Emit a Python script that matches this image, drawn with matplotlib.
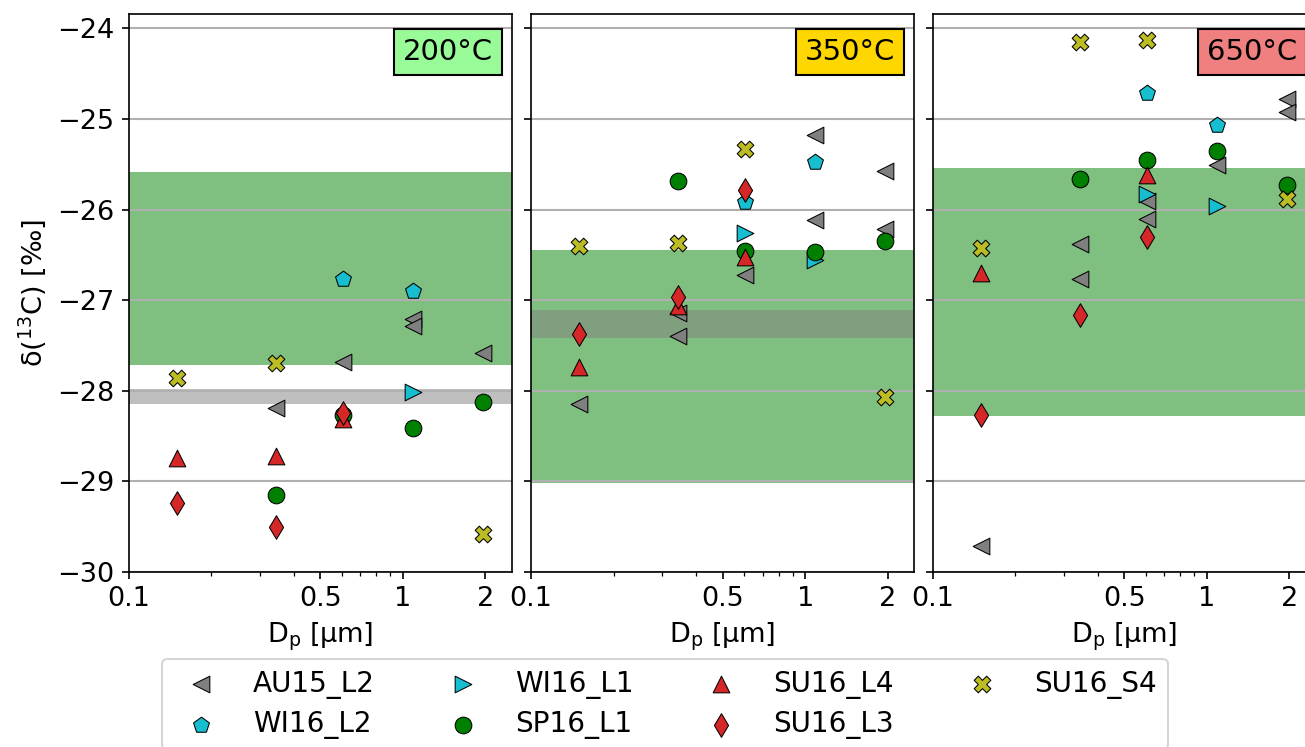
import matplotlib
matplotlib.use("Agg")
import matplotlib.pyplot as plt
import numpy as np

plt.rcParams['font.family'] = ['DejaVu Sans']
plt.rcParams['font.size'] = 13

# ---------------- data ----------------
temps = ["200°C", "350°C", "650°C"]
temp_colors = ["palegreen", "gold", "lightcoral"]

series_names = ["AU15_L2", "WI16_L2", "WI16_L1", "SP16_L1", "SU16_L4", "SU16_L3", "SU16_S4"]
series_markers = ["<", "p", ">", "o", "^", "d", "X"]
series_colors = ["tab:gray", "tab:cyan", "tab:cyan", "green", "tab:red", "tab:red", "tab:olive"]

# 200 °C
au15_200_x = [0.345, 0.605, 1.09, 1.09, 1.96]
au15_200_y = [-28.19, -27.68, -27.21, -27.29, -27.58]
wi16l2_200_x = [0.605, 1.09]
wi16l2_200_y = [-26.77, -26.90]
wi16l1_200_x = [1.09]
wi16l1_200_y = [-28.02]
sp16l1_200_x = [0.345, 0.605, 1.09, 1.96]
sp16l1_200_y = [-29.15, -28.27, -28.41, -28.13]
su16l4_200_x = [0.15, 0.345, 0.605]
su16l4_200_y = [-28.74, -28.72, -28.31]
su16l3_200_x = [0.15, 0.345, 0.605]
su16l3_200_y = [-29.24, -29.51, -28.25]
su16s4_200_x = [0.15, 0.345, 1.96]
su16s4_200_y = [-27.86, -27.69, -29.58]

# 350 °C
au15_350_x = [0.15, 0.345, 0.345, 0.605, 1.09, 1.09, 1.96, 1.96]
au15_350_y = [-28.15, -27.14, -27.40, -26.72, -25.18, -26.11, -25.57, -26.21]
wi16l2_350_x = [0.605, 1.09]
wi16l2_350_y = [-25.92, -25.47]
wi16l1_350_x = [0.605, 1.09]
wi16l1_350_y = [-26.26, -26.56]
sp16l1_350_x = [0.345, 0.605, 1.09, 1.96]
sp16l1_350_y = [-25.68, -26.46, -26.47, -26.35]
su16l4_350_x = [0.15, 0.345, 0.605]
su16l4_350_y = [-27.74, -27.07, -26.52]
su16l3_350_x = [0.15, 0.345, 0.605]
su16l3_350_y = [-27.38, -26.97, -25.78]
su16s4_350_x = [0.15, 0.345, 0.605, 1.96]
su16s4_350_y = [-26.40, -26.37, -25.33, -28.07]

# 650 °C
au15_650_x = [0.15, 0.345, 0.345, 0.605, 0.605, 1.09, 1.96, 1.96]
au15_650_y = [-29.72, -26.38, -26.77, -25.90, -26.10, -25.51, -24.78, -24.92]
wi16l2_650_x = [0.605, 1.09]
wi16l2_650_y = [-24.71, -25.07]
wi16l1_650_x = [0.605, 1.09]
wi16l1_650_y = [-25.83, -25.96]
sp16l1_650_x = [0.345, 0.605, 1.09, 1.96]
sp16l1_650_y = [-25.66, -25.45, -25.35, -25.73]
su16l4_650_x = [0.15, 0.605]
su16l4_650_y = [-26.70, -25.62]
su16l3_650_x = [0.15, 0.345, 0.605]
su16l3_650_y = [-28.27, -27.16, -26.30]
su16s4_650_x = [0.15, 0.345, 0.605, 1.96]
su16s4_650_y = [-26.42, -24.15, -24.13, -25.88]

# bands (green range, gray range)
green_band_lo = [-27.72, -29.02, -28.28]
green_band_hi = [-25.58, -26.45, -25.54]
gray_band_lo = [-28.15, -27.42, None]
gray_band_hi = [-27.98, -27.11, None]

xticks = [0.1, 0.5, 1, 2]
xticklabels = ["0.1", "0.5", "1", "2"]
yticks = [-30, -29, -28, -27, -26, -25, -24]

panel_data = [
    [(au15_200_x, au15_200_y), (wi16l2_200_x, wi16l2_200_y), (wi16l1_200_x, wi16l1_200_y),
     (sp16l1_200_x, sp16l1_200_y), (su16l4_200_x, su16l4_200_y), (su16l3_200_x, su16l3_200_y),
     (su16s4_200_x, su16s4_200_y)],
    [(au15_350_x, au15_350_y), (wi16l2_350_x, wi16l2_350_y), (wi16l1_350_x, wi16l1_350_y),
     (sp16l1_350_x, sp16l1_350_y), (su16l4_350_x, su16l4_350_y), (su16l3_350_x, su16l3_350_y),
     (su16s4_350_x, su16s4_350_y)],
    [(au15_650_x, au15_650_y), (wi16l2_650_x, wi16l2_650_y), (wi16l1_650_x, wi16l1_650_y),
     (sp16l1_650_x, sp16l1_650_y), (su16l4_650_x, su16l4_650_y), (su16l3_650_x, su16l3_650_y),
     (su16s4_650_x, su16s4_650_y)],
]

# ---------------- figure ----------------
W, H = 1305, 747
fig = plt.figure(figsize=(W / 150, H / 150), dpi=150)

lefts = [128.7, 531.0, 932.7]
ax_w = 383.3
ax_top, ax_bot = 14.0, 571.7
axes = []
for i, lp in enumerate(lefts):
    ax = fig.add_axes([lp / W, 1 - ax_bot / H, ax_w / W, (ax_bot - ax_top) / H])
    axes.append(ax)

handles = []
for i, ax in enumerate(axes):
    ax.set_xscale('log')
    ax.set_xlim(0.1, 2.5)
    ax.set_ylim(-30, -23.84)
    ax.axhspan(green_band_lo[i], green_band_hi[i], color='green', alpha=0.5, lw=0, zorder=1)
    if gray_band_lo[i] is not None:
        ax.axhspan(gray_band_lo[i], gray_band_hi[i], color='gray', alpha=0.5, lw=0, zorder=1)
    ax.grid(axis='y', color='#b0b0b0', lw=1.0)
    ax.grid(axis='x', visible=False)
    for j, (xs, ys) in enumerate(panel_data[i]):
        h = ax.scatter(xs, ys, marker=series_markers[j], s=64, c=series_colors[j],
                       edgecolors='black', linewidths=0.5, zorder=3, label=series_names[j])
        if i == 0:
            handles.append(h)
    ax.set_xticks(xticks)
    ax.set_xticklabels(xticklabels)
    ax.set_yticks(yticks)
    ax.set_xlabel("D$_\\mathrm{p}$ [µm]")
    if i > 0:
        ax.tick_params(axis='y', labelleft=False)
    ax.text(0.95, 0.957, temps[i], transform=ax.transAxes, ha='right', va='top',
            fontsize=14, zorder=5,
            bbox=dict(boxstyle='square,pad=0.3', facecolor=temp_colors[i],
                      edgecolor='black', linewidth=1.0))

axes[0].set_ylabel("δ($^{13}$C) [‰]")

fig.legend(handles=handles, labels=series_names, ncol=4, loc='upper left',
           bbox_to_anchor=(162 / W, 1 - 658.5 / H), borderaxespad=0, fontsize=13.4,
           handletextpad=0.86, columnspacing=2.15, labelspacing=0.4)

fig.savefig("out.png", dpi=150)
